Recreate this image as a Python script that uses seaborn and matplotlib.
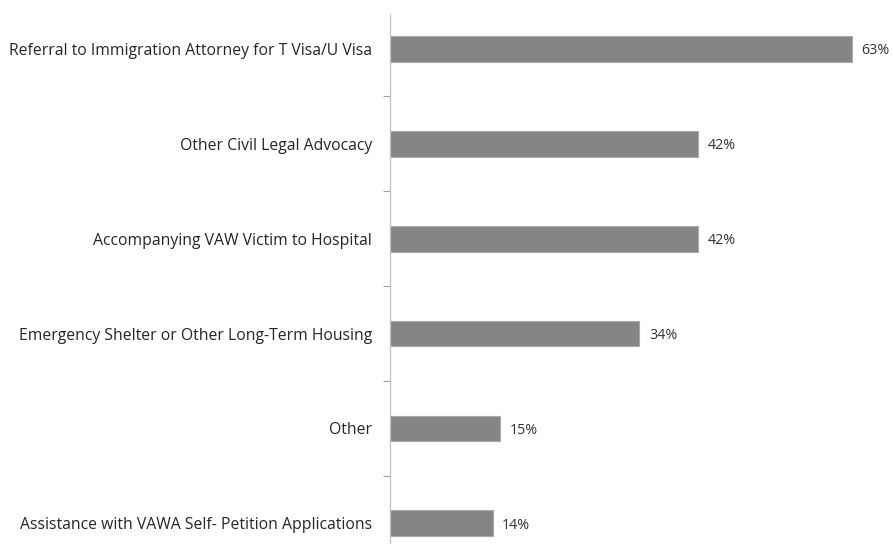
import pandas as pd
import matplotlib.pyplot as plt
import seaborn as sns
import numpy as np

services = [
    'Referral to Immigration Attorney for T Visa/U Visa',
    'Other Civil Legal Advocacy',
    'Accompanying VAW Victim to Hospital',
    'Emergency Shelter or Other Long-Term Housing',
    'Other',
    'Assistance with VAWA Self- Petition Applications',
]
percents = [63, 42, 42, 34, 15, 14]
value_labels = ['63%', '42%', '42%', '34%', '15%', '14%']

df = pd.DataFrame({'service': services, 'pct': percents})

sns.set_style('white')
plt.rcParams['font.family'] = ['Open Sans', 'DejaVu Sans']

fig = plt.figure(figsize=(8.93, 5.44), dpi=100)
ax = fig.add_axes([390 / 893, 0, 1 - 390 / 893, 1 - 14 / 544])

sns.barplot(data=df, y='service', x='pct', orient='h', color='#858585',
            width=0.27, edgecolor='#aaaaaa', linewidth=0.8, saturation=1, ax=ax)

for i, (v, lab) in enumerate(zip(percents, value_labels)):
    ax.text(v + 1.3, i + 0.02, lab, va='center', ha='left', fontsize=10.3, color='#333333')

ax.set_xlim(0, 68.6)
ax.set_ylim(5.22, -0.37)
ax.set_xlabel('')
ax.set_ylabel('')
ax.set_xticks([])

# category labels at centres, tick marks at boundaries
ax.set_yticks(range(len(services)))
ax.set_yticklabels(services, fontsize=11.3, color='#262626')
ax.tick_params(axis='y', which='major', length=0, pad=13)
ax.set_yticks(np.arange(0.5, len(services) - 0.5, 1), minor=True)
ax.tick_params(axis='y', which='minor', length=5, width=0.8, color='#a0a0a0', left=True)

for s in ['top', 'right', 'bottom']:
    ax.spines[s].set_visible(False)
ax.spines['left'].set_color('#c0c0c0')
ax.spines['left'].set_linewidth(0.9)

fig.savefig('out.png', dpi=100)
